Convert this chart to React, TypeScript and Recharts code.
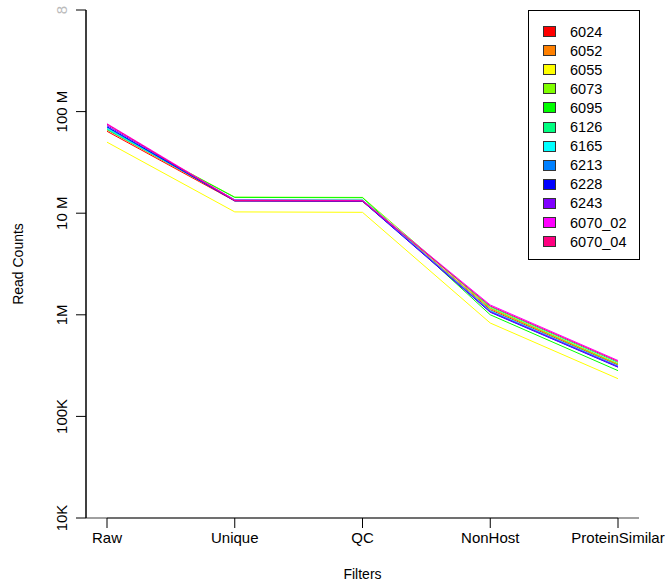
import { LineChart, Line, XAxis, YAxis, ReferenceLine, Label } from 'recharts'

const filters = ['Raw', 'Unique', 'QC', 'NonHost', 'ProteinSimilar']

const samples = ['6024', '6052', '6055', '6073', '6095', '6126', '6165', '6213', '6228', '6243', '6070_02', '6070_04']

// rainbow(12)
const colors = [
  '#FF0000', '#FF8000', '#FFFF00', '#80FF00', '#00FF00', '#00FF80',
  '#00FFFF', '#0080FF', '#0000FF', '#8000FF', '#FF00FF', '#FF0080',
]

// read counts per filter step, one array per sample
const s6024 = [64e6, 13.2e6, 13.1e6, 1.12e6, 320e3]
const s6052 = [66e6, 13.4e6, 13.3e6, 1.15e6, 325e3]
const s6055 = [50e6, 10.3e6, 10.2e6, 0.83e6, 235e3]
const s6073 = [68e6, 14.4e6, 14.3e6, 1.17e6, 330e3]
const s6095 = [67e6, 14.3e6, 14.2e6, 1.0e6, 282e3]
const s6126 = [67e6, 13.6e6, 13.5e6, 1.2e6, 340e3]
const s6165 = [68e6, 13.5e6, 13.4e6, 1.1e6, 315e3]
const s6213 = [70e6, 13.3e6, 13.2e6, 1.08e6, 310e3]
const s6228 = [71e6, 13.2e6, 13.1e6, 1.06e6, 305e3]
const s6243 = [73e6, 13.4e6, 13.3e6, 1.07e6, 308e3]
const s6070_02 = [76e6, 13.5e6, 13.4e6, 1.25e6, 355e3]
const s6070_04 = [75e6, 13.3e6, 13.2e6, 1.22e6, 348e3]

const seriesValues = [s6024, s6052, s6055, s6073, s6095, s6126, s6165, s6213, s6228, s6243, s6070_02, s6070_04]

const yTicks = [1e4, 1e5, 1e6, 1e7, 1e8, 1e9]
const yTickLabels = ['10K', '100K', '1M', '10 M', '100 M', '8']

const data = filters.map((f, i) => {
  const row: Record<string, string | number> = { filter: f }
  samples.forEach((s, j) => {
    row[s] = seriesValues[j][i]
  })
  return row
})

const FONT = '"Liberation Sans", Arial, sans-serif'

// eslint-disable-next-line @typescript-eslint/no-explicit-any
function YTick(props: any) {
  const { x, y, index } = props
  const top = index === yTicks.length - 1
  return (
    <text
      x={x}
      y={y}
      transform={`rotate(-90 ${x} ${y})`}
      textAnchor="middle"
      fontSize={15}
      fontFamily={FONT}
      fill={top ? '#bbbbbb' : '#000'}
    >
      {yTickLabels[index]}
    </text>
  )
}

function LegendBox() {
  return (
    <div
      style={{
        position: 'absolute',
        left: 528,
        top: 10,
        width: 110,
        height: 248,
        border: '1px solid #000',
        background: '#fff',
        fontFamily: FONT,
        fontSize: 14.5,
      }}
    >
      {samples.map((s, i) => (
        <div
          key={s}
          style={{ position: 'absolute', left: 0, top: 11 + i * 19.1, height: 19, display: 'flex', alignItems: 'center' }}
        >
          <span
            style={{
              display: 'inline-block',
              marginLeft: 14,
              width: 11,
              height: 9,
              background: colors[i],
              border: '1px solid #333',
            }}
          />
          <span style={{ marginLeft: 14 }}>{s}</span>
        </div>
      ))}
    </div>
  )
}

export default function App() {
  return (
    <div style={{ position: 'absolute', left: 0, top: 0, width: 668, height: 585, background: '#fff' }}>
      <LineChart width={668} height={585} data={data} margin={{ top: 10, right: 29, bottom: 0, left: 0 }}>
        <XAxis
          dataKey="filter"
          padding={{ left: 21, right: 21 }}
          interval={0}
          height={67}
          tickSize={10}
          tickMargin={4}
          axisLine={{ stroke: '#808080', strokeWidth: 1.5 }}
          tickLine={{ stroke: '#000' }}
          tick={{ fontSize: 15, fill: '#000', fontFamily: FONT }}
        >
          <Label value="Filters" position="insideBottom" offset={6} fontSize={14} fill="#000" fontFamily={FONT} />
        </XAxis>
        <YAxis
          yAxisId="left"
          width={86}
          scale="log"
          type="number"
          domain={[1e4, 1e9]}
          ticks={yTicks}
          allowDataOverflow
          tickSize={10}
          tickMargin={9}
          axisLine={{ stroke: '#000', strokeWidth: 1.5 }}
          tickLine={{ stroke: '#000' }}
          tick={YTick}
        >
          <Label
            value="Read Counts"
            angle={-90}
            position="insideLeft"
            offset={18}
            style={{ textAnchor: 'middle' }}
            fontSize={14}
            fill="#000"
            fontFamily={FONT}
          />
        </YAxis>
        <YAxis
          yAxisId="right"
          orientation="right"
          width={0}
          scale="log"
          type="number"
          domain={[1e4, 1e9]}
          tick={false}
          tickLine={false}
          axisLine={{ stroke: '#808080', strokeWidth: 1.5 }}
        />
        <ReferenceLine
          yAxisId="left"
          segment={[
            { x: 'Raw', y: 1e4 },
            { x: 'ProteinSimilar', y: 1e4 },
          ]}
          stroke="#000"
          strokeWidth={1.5}
          ifOverflow="visible"
        />
        {samples.map((s, i) => (
          <Line
            key={s}
            yAxisId="left"
            type="linear"
            dataKey={s}
            stroke={colors[i]}
            strokeWidth={1}
            dot={false}
            activeDot={false}
            isAnimationActive={false}
          />
        ))}
      </LineChart>
      <LegendBox />
    </div>
  )
}
